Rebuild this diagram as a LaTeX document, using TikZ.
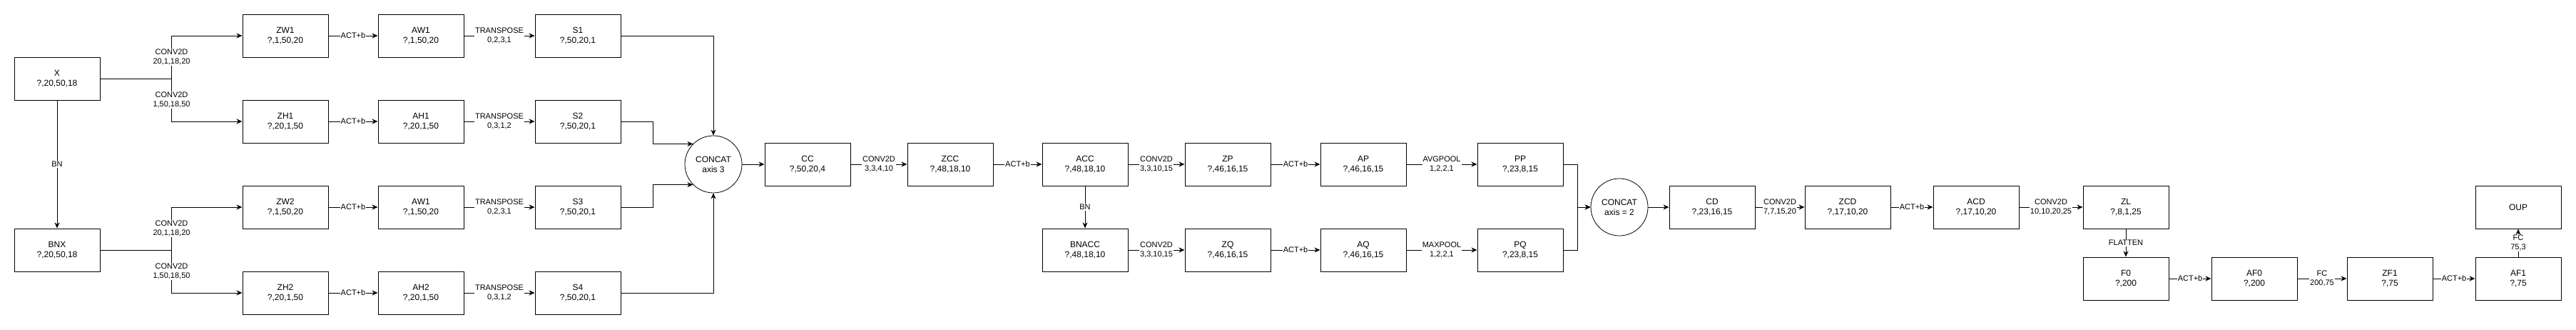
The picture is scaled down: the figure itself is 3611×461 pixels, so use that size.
\documentclass[tikz,border=0pt]{standalone}
\usepackage{fontspec}
\setmainfont{Liberation Sans}
\usetikzlibrary{positioning,arrows.meta,shapes}
\tikzstyle{blk}=[draw, line width=1pt, minimum height=60pt, minimum width=120pt, align=center, font=\fontsize{12}{14}\selectfont]
\tikzstyle{cat}=[draw, circle, line width=0.8pt, minimum size=80pt, inner sep=0pt, align=center, font=\fontsize{12}{14}\selectfont]
\tikzstyle{lbl}=[fill=white, inner sep=1pt, align=center, font=\fontsize{11}{13}\selectfont]

\begin{document}
\begin{tikzpicture}[x=1pt,y=-1pt,node distance=120pt,line width=1pt,>={Stealth[length=8pt,width=7pt,inset=2.5pt]}]
\useasboundingbox (0,0) rectangle (3611,461);

% inputs
\node[blk] at (80,110) (x) {X\\?,20,50,18};
\node[blk, below of = x, node distance = 240pt] (bnx) {BNX\\?,20,50,18};
\draw[->] (x) -- node[lbl] {BN} (bnx);

% four branches
\node[blk] at (400,50) (zw1) {ZW1\\?,1,50,20};
\node[blk, below of = zw1] (zh1) {ZH1\\?,20,1,50};
\node[blk, below of = zh1] (zw2) {ZW2\\?,1,50,20};
\node[blk, below of = zw2] (zh2) {ZH2\\?,20,1,50};

\draw[->] (x.east) -- ++(100,0) |- node[lbl, pos=0.25] {CONV2D\\20,1,18,20} (zw1.west);
\draw[->] (x.east) -- ++(100,0) |- node[lbl, pos=0.25] {CONV2D\\1,50,18,50} (zh1.west);
\draw[->] (bnx.east) -- ++(100,0) |- node[lbl, pos=0.25] {CONV2D\\20,1,18,20} (zw2.west);
\draw[->] (bnx.east) -- ++(100,0) |- node[lbl, pos=0.25] {CONV2D\\1,50,18,50} (zh2.west);

\node[blk, right of = zw1, node distance = 190pt] (aw1) {AW1\\?,1,50,20};
\node[blk, right of = zh1, node distance = 190pt] (ah1) {AH1\\?,20,1,50};
\node[blk, right of = zw2, node distance = 190pt] (aw2) {AW1\\?,1,50,20};
\node[blk, right of = zh2, node distance = 190pt] (ah2) {AH2\\?,20,1,50};
\draw[->] (zw1) -- node[lbl] {ACT+b} (aw1);
\draw[->] (zh1) -- node[lbl] {ACT+b} (ah1);
\draw[->] (zw2) -- node[lbl] {ACT+b} (aw2);
\draw[->] (zh2) -- node[lbl] {ACT+b} (ah2);

\node[blk, right of = aw1, node distance = 220pt] (s1) {S1\\?,50,20,1};
\node[blk, right of = ah1, node distance = 220pt] (s2) {S2\\?,50,20,1};
\node[blk, right of = aw2, node distance = 220pt] (s3) {S3\\?,50,20,1};
\node[blk, right of = ah2, node distance = 220pt] (s4) {S4\\?,50,20,1};
\draw[->] (aw1) -- node[lbl] {TRANSPOSE\\0,2,3,1} (s1);
\draw[->] (ah1) -- node[lbl] {TRANSPOSE\\0,3,1,2} (s2);
\draw[->] (aw2) -- node[lbl] {TRANSPOSE\\0,2,3,1} (s3);
\draw[->] (ah2) -- node[lbl] {TRANSPOSE\\0,3,1,2} (s4);

\node[cat] at (1000,230) (cat1) {CONCAT\\axis 3};
\draw[->] (s1.east) -| (cat1.north);
\draw[->] (s2.east) -- ++(45,0) |- (cat1.135);
\draw[->] (s3.east) -- ++(45,0) |- (cat1.-135);
\draw[->] (s4.east) -| (cat1.south);

% conv block
\node[blk, right of = cat1, node distance = 132pt] (cc) {CC\\?,50,20,4};
\node[blk, right of = cc, node distance = 200pt] (zcc) {ZCC\\?,48,18,10};
\node[blk, right of = zcc, node distance = 189pt] (acc) {ACC\\?,48,18,10};
\node[blk, below of = acc] (bnacc) {BNACC\\?,48,18,10};
\draw[->] (cat1) -- (cc);
\draw[->] (cc) -- node[lbl] {CONV2D\\3,3,4,10} (zcc);
\draw[->] (zcc) -- node[lbl] {ACT+b} (acc);
\draw[->] (acc) -- node[lbl] {BN} (bnacc);

\node[blk, right of = acc, node distance = 200pt] (zp) {ZP\\?,46,16,15};
\node[blk, right of = bnacc, node distance = 200pt] (zq) {ZQ\\?,46,16,15};
\node[blk, right of = zp, node distance = 190pt] (ap) {AP\\?,46,16,15};
\node[blk, right of = zq, node distance = 190pt] (aq) {AQ\\?,46,16,15};
\node[blk, right of = ap, node distance = 220pt] (pp) {PP\\?,23,8,15};
\node[blk, right of = aq, node distance = 220pt] (pq) {PQ\\?,23,8,15};
\draw[->] (acc) -- node[lbl] {CONV2D\\3,3,10,15} (zp);
\draw[->] (bnacc) -- node[lbl] {CONV2D\\3,3,10,15} (zq);
\draw[->] (zp) -- node[lbl] {ACT+b} (ap);
\draw[->] (zq) -- node[lbl] {ACT+b} (aq);
\draw[->] (ap) -- node[lbl] {AVGPOOL\\1,2,2,1} (pp);
\draw[->] (aq) -- node[lbl] {MAXPOOL\\1,2,2,1} (pq);

\node[cat] at (2270,290) (cat2) {CONCAT\\axis = 2};
\draw[->] (pp.east) -- ++(20,0) |- (cat2.west);
\draw[->] (pq.east) -- ++(20,0) |- (cat2.west);

% head
\node[blk, right of = cat2, node distance = 130pt] (cd) {CD\\?,23,16,15};
\node[blk, right of = cd, node distance = 190pt] (zcd) {ZCD\\?,17,10,20};
\node[blk, right of = zcd, node distance = 180pt] (acd) {ACD\\?,17,10,20};
\node[blk, right of = acd, node distance = 210pt] (zl) {ZL\\?,8,1,25};
\draw[->] (cat2) -- (cd);
\draw[->] (cd) -- node[lbl] {CONV2D\\7,7,15,20} (zcd);
\draw[->] (zcd) -- node[lbl] {ACT+b} (acd);
\draw[->] (acd) -- node[lbl] {CONV2D\\10,10,20,25} (zl);

\node[blk, below of = zl, node distance = 100pt] (f0) {F0\\?,200};
\node[blk, right of = f0, node distance = 180pt] (af0) {AF0\\?,200};
\node[blk, right of = af0, node distance = 190pt] (zf1) {ZF1\\?,75};
\node[blk, right of = zf1, node distance = 180pt] (af1) {AF1\\?,75};
\node[blk, above of = af1, node distance = 100pt] (oup) {OUP};
\draw[->] (zl) -- node[lbl] {FLATTEN} (f0);
\draw[->] (f0) -- node[lbl] {ACT+b} (af0);
\draw[->] (af0) -- node[lbl] {FC\\200,75} (zf1);
\draw[->] (zf1) -- node[lbl] {ACT+b} (af1);
\draw[->] (af1) -- node[lbl] {FC\\75,3} (oup);
\end{tikzpicture}
\end{document}
